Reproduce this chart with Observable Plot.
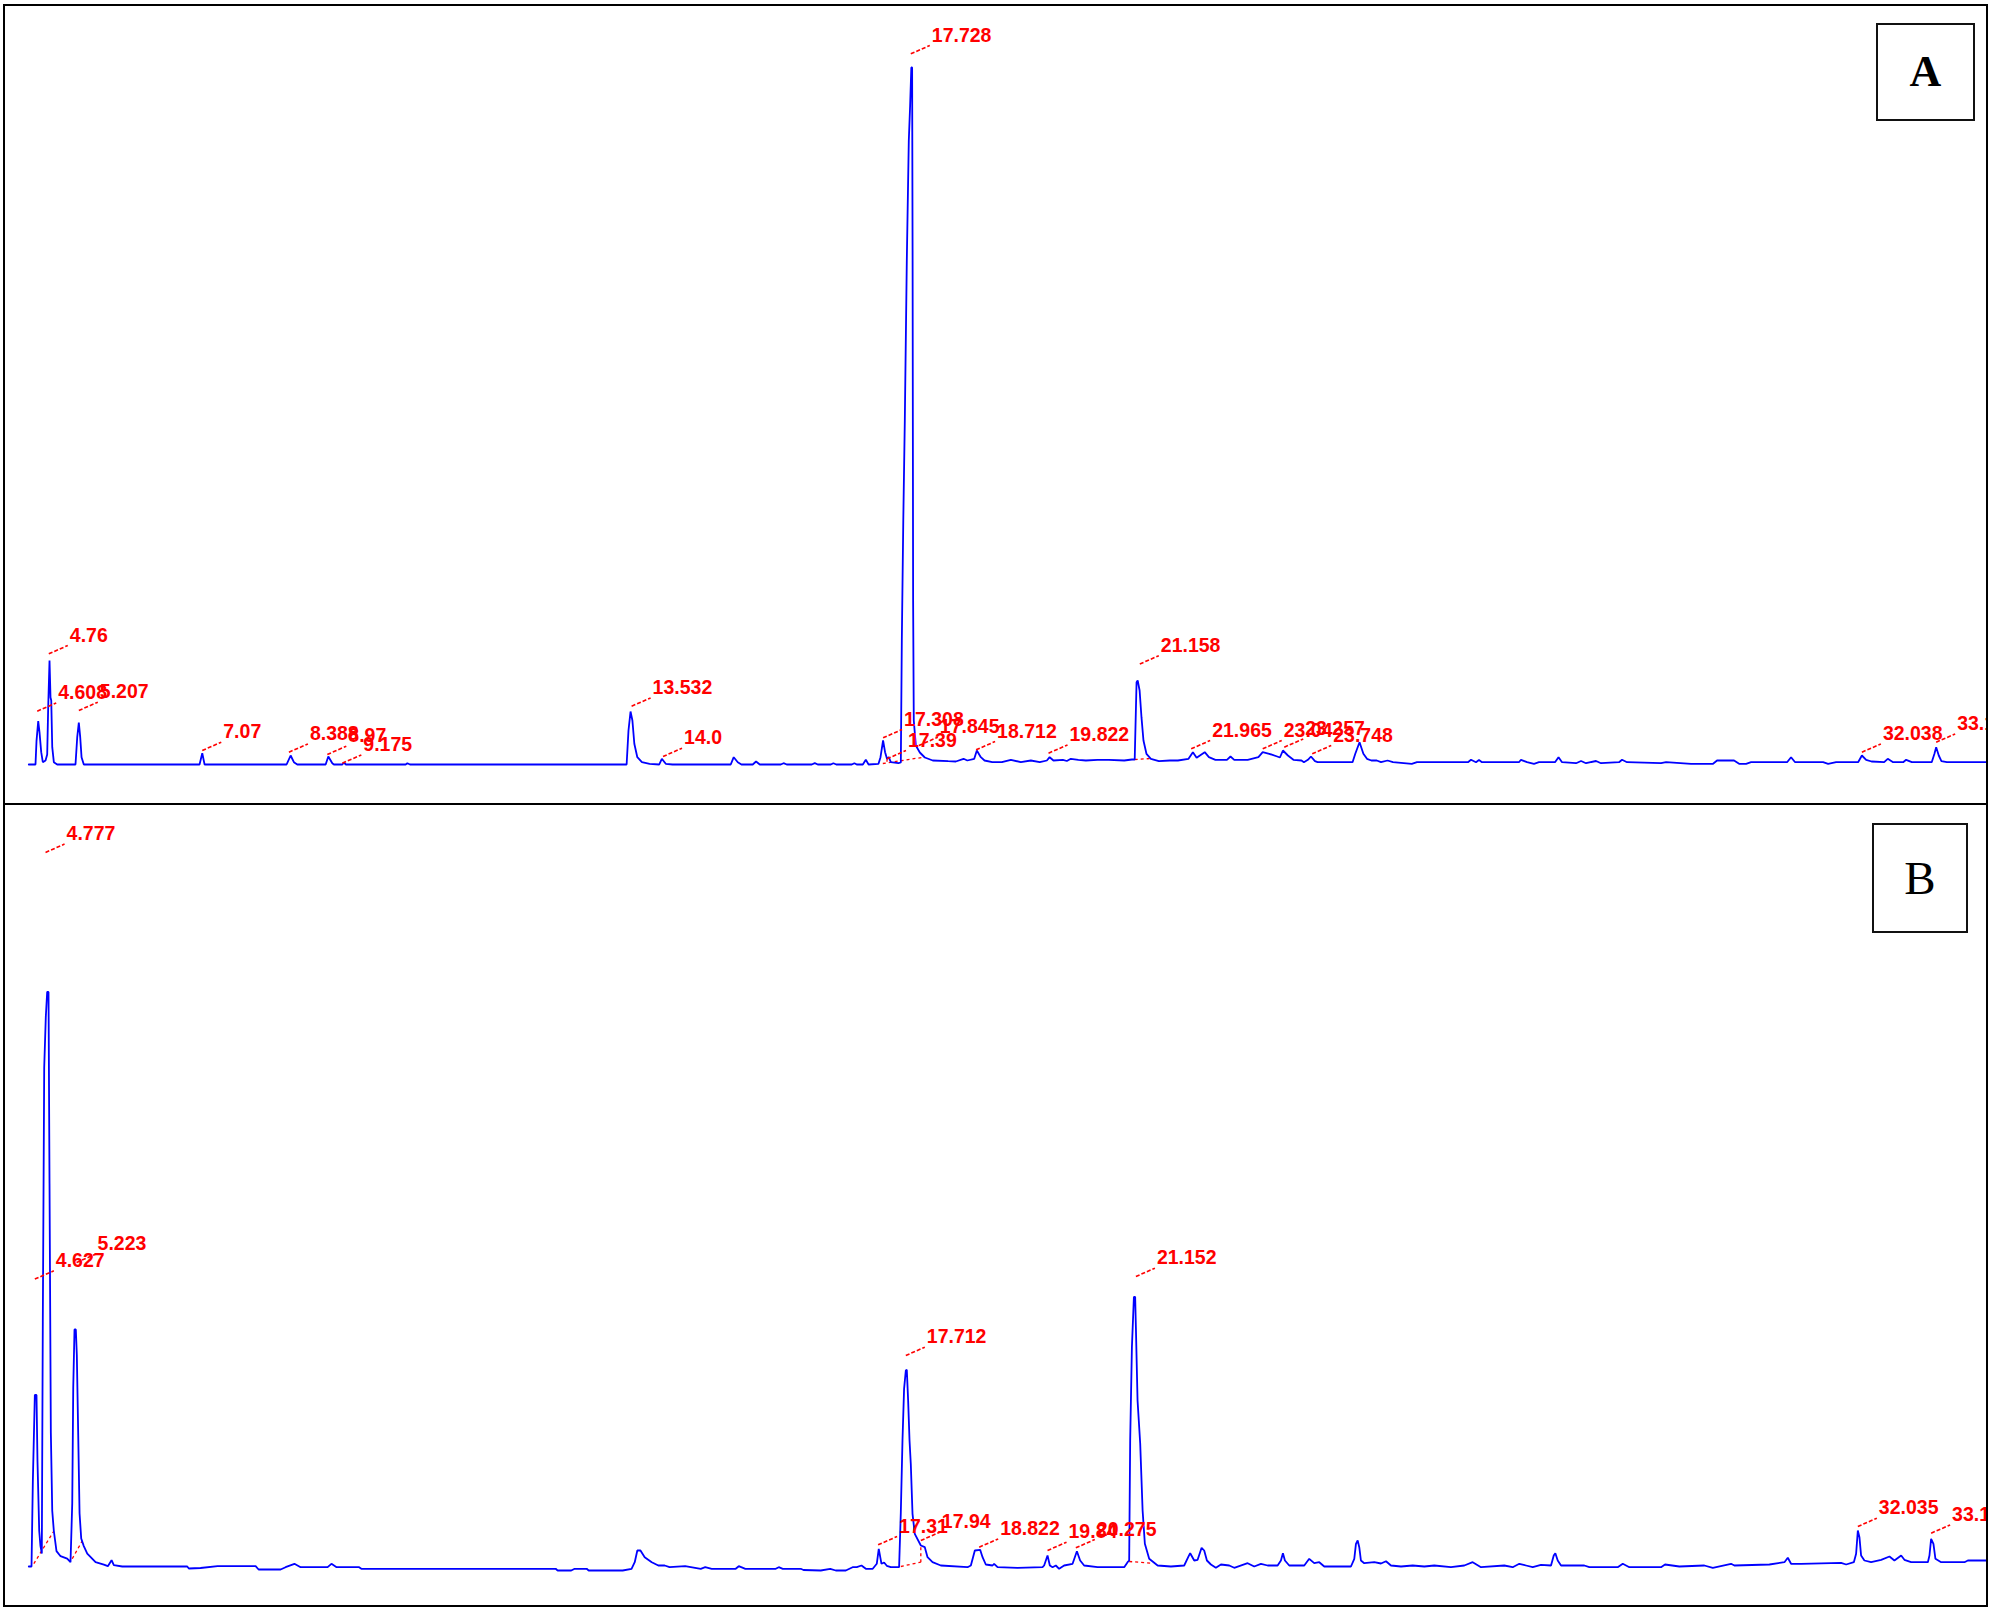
<!DOCTYPE html>
<html>
<head>
<meta charset="utf-8">
<script src="https://cdn.jsdelivr.net/npm/d3@7"></script>
<script src="https://cdn.jsdelivr.net/npm/@observablehq/plot@0.6"></script>
<style>
  html, body { margin: 0; padding: 0; background: #fff; }
  #page { position: relative; width: 1993px; height: 1612px; overflow: hidden; background: #fff; }
  .panel { position: absolute; left: 0; width: 1986px; overflow: hidden; }
  .panel svg { display: block; }
  .rule { position: absolute; background: #000; }
  .frame { position: absolute; border: 2px solid #000; box-sizing: border-box; }
  .tag { position: absolute; border: 2px solid #111; box-sizing: border-box; background: #fff;
         display: flex; align-items: center; justify-content: center;
         font-family: "Liberation Serif", "DejaVu Serif", serif; color: #000; line-height: 1; }
</style>
</head>
<body>
<div id="page"></div>
<script>
// ---------- DATA (retention time in min, detector signal in arbitrary units) ----------
const panelNames = ["A", "B"];

const traceA = [
[4.448,0],[4.549,0],[4.564,23.3],[4.590,43.3],[4.609,32.3],[4.635,12.3],[4.659,2.3],[4.700,4],[4.725,10],[4.740,57.3],
[4.760,104],[4.775,67],[4.786,64],[4.801,17.3],[4.825,2.3],[4.876,0],[5.151,0],[5.177,27.3],[5.201,42],[5.222,27.3],
[5.242,7.3],[5.276,0],[7.018,0],[7.059,11.3],[7.094,0],[8.328,0],[8.389,9],[8.438,2.3],[8.489,0],[8.916,0],
[8.956,8],[9.016,1.3],[9.040,0],[9.167,0],[9.191,2],[9.221,0],[10.120,0],[10.146,1.3],[10.185,0],[13.446,0],
[13.474,34],[13.505,53],[13.533,44],[13.562,20.7],[13.607,7.3],[13.676,2.3],[13.792,0.7],[13.937,0],[13.976,5.7],[14.035,0.7],
[14.137,0],[15.013,0],[15.058,7.3],[15.119,2.3],[15.174,0],[15.344,0],[15.394,3],[15.450,0],[15.766,0],[15.808,1.3],
[15.856,0],[16.233,0],[16.278,1.3],[16.323,0],[16.519,0],[16.558,1.3],[16.602,0],[16.835,0],[16.874,1.3],[16.910,0],
[17.001,0],[17.046,4.7],[17.088,0],[17.237,0.7],[17.267,7.3],[17.306,24],[17.336,12.3],[17.365,5.7],[17.392,7.3],[17.422,2.3],
[17.537,1.3],[17.573,2],[17.588,124],[17.610,244],[17.633,344],[17.663,504],[17.693,624],[17.713,659],[17.731,697],[17.743,697],
[17.750,514],[17.758,164],[17.768,44],[17.799,19],[17.859,12],[17.934,7],[18.054,4],[18.286,3.3],[18.401,3],[18.517,5.7],
[18.574,4],[18.678,5.7],[18.717,14],[18.777,7.3],[18.833,4],[18.949,2.3],[19.093,2.3],[19.229,4.7],[19.379,2.3],[19.530,4],
[19.665,2.3],[19.771,4],[19.813,7.3],[19.870,4],[20.012,4.7],[20.072,3.5],[20.132,5.7],[20.245,4.7],[20.358,4],[20.533,4.7],
[20.704,4.7],[20.936,4],[21.051,5],[21.093,5],[21.121,82.3],[21.138,84],[21.167,74],[21.195,47.3],[21.225,24],[21.270,10.7],
[21.337,5.7],[21.457,3.3],[21.623,4],[21.743,4],[21.903,5.7],[21.969,12.3],[22.025,6.7],[22.147,12.3],[22.210,7.3],[22.308,4.7],
[22.481,4.7],[22.535,8],[22.591,4.7],[22.794,4.7],[22.955,7.3],[23.020,12.3],[23.118,10.7],[23.238,8],[23.279,7],[23.324,14],
[23.399,9],[23.482,4.7],[23.603,4],[23.640,2.3],[23.700,4.7],[23.746,8],[23.806,3.3],[23.846,2.3],[24.372,2.3],[24.413,10.7],
[24.477,22.3],[24.535,10.7],[24.589,5.7],[24.655,4],[24.736,4],[24.800,2.3],[24.899,4],[24.980,2.3],[25.263,0.7],[25.342,2.3],
[26.109,2.3],[26.155,4.7],[26.230,2.3],[26.275,4.5],[26.320,2.3],[26.877,2.3],[26.907,4.7],[26.998,2.3],[27.103,0.7],[27.178,2.3],
[27.419,2.3],[27.472,7.3],[27.525,2.3],[27.736,1.3],[27.811,3.5],[27.886,1.3],[28.037,3.5],[28.112,1.3],[28.383,2.3],[28.428,4.7],
[28.503,2.3],[29.015,1.3],[29.091,2.3],[29.467,0.7],[29.798,0.7],[29.858,4],[30.114,4],[30.190,0.7],[30.295,0.7],[30.370,2.3],
[30.912,2.3],[30.972,7.3],[31.033,2.3],[31.454,2.3],[31.530,0.7],[31.650,2.3],[31.981,2.3],[32.038,9],[32.102,4.7],[32.183,3],
[32.373,2.3],[32.427,5.7],[32.508,2.3],[32.659,2.3],[32.704,4.7],[32.790,2.3],[33.089,2.3],[33.130,10.7],[33.156,17.3],[33.195,9],
[33.235,3.3],[33.317,2.3],[33.984,2.3]
];

const traceB = [
[4.448,0],[4.489,0],[4.509,85],[4.539,171.5],[4.564,171.5],[4.579,105],[4.605,35.5],[4.624,20.4],[4.644,13],[4.659,244.6],
[4.680,499],[4.704,549.4],[4.725,574.6],[4.745,574.6],[4.760,383.1],[4.780,133.8],[4.801,55.7],[4.825,35.5],[4.865,15.4],[4.926,10.3],
[5.026,7.8],[5.076,4.3],[5.102,63.2],[5.117,179.1],[5.136,237],[5.156,237],[5.171,211.8],[5.192,131.2],[5.212,53.2],[5.237,28],
[5.276,20.4],[5.328,12.9],[5.453,4.3],[5.578,1.8],[5.638,0.3],[5.694,6.3],[5.728,1.3],[5.855,0],[6.833,0],[6.857,-2],
[7.033,-1.5],[7.289,0.3],[7.862,0.3],[7.907,-3],[8.238,-3],[8.313,-0.7],[8.446,2.7],[8.539,-0.7],[8.946,-0.7],[9.003,2.7],
[9.081,-0.7],[9.420,-0.7],[9.453,-2.3],[12.378,-2.3],[12.408,-4],[12.612,-4],[12.664,-2.3],[12.845,-2.3],[12.875,-4],[13.387,-4],
[13.520,-2.3],[13.568,4.3],[13.607,16],[13.654,16],[13.718,9.3],[13.824,4.3],[13.923,1],[14.019,1],[14.092,-0.7],[14.327,0.3],
[14.562,-2.3],[14.629,-0.7],[14.727,-2.3],[15.088,-2.3],[15.134,0.3],[15.233,-2.3],[15.691,-2.3],[15.736,-0.7],[15.796,-2.3],[16.067,-2.3],
[16.108,-3.5],[16.368,-4],[16.511,-2.3],[16.594,-4],[16.745,-4],[16.847,-0.7],[16.910,-0.7],[16.981,1],[17.046,-2.3],[17.150,-2.3],
[17.211,2.7],[17.241,17.7],[17.282,2.7],[17.321,4],[17.362,0.7],[17.422,-0.7],[17.547,-0.7],[17.573,54.3],[17.598,126],[17.622,177.7],
[17.648,196],[17.663,196.7],[17.683,166],[17.704,126],[17.723,102.7],[17.749,52.7],[17.783,32.7],[17.874,21],[17.934,19.3],[17.975,9.3],
[18.050,4.3],[18.175,1],[18.577,-0.7],[18.627,1],[18.687,16],[18.767,16.7],[18.803,9.3],[18.852,2],[18.953,1],[18.977,2.7],
[19.029,-0.7],[19.330,-1.3],[19.706,-0.7],[19.730,1],[19.781,11],[19.816,1],[19.857,-0.7],[19.906,1],[19.956,-2.3],[20.031,1],
[20.158,2.7],[20.192,9.3],[20.223,15.3],[20.272,6],[20.332,1],[20.534,-0.7],[20.935,-0.7],[20.986,4.3],[21.010,6],[21.025,126],
[21.051,219.3],[21.081,269.5],[21.100,269.5],[21.111,239.3],[21.136,166],[21.176,122.7],[21.212,56],[21.246,22.7],[21.311,7.7],[21.438,1],
[21.638,0],[21.838,1],[21.898,9.3],[21.928,13.3],[21.989,6],[22.040,6.7],[22.100,18.7],[22.139,16],[22.180,6],[22.240,2],
[22.315,-1.3],[22.391,2],[22.516,1],[22.591,-1.3],[22.793,3.3],[22.892,0],[22.993,2.7],[23.094,1],[23.244,1],[23.294,6],
[23.324,13.3],[23.354,6],[23.419,1],[23.645,1],[23.720,7.7],[23.795,3.3],[23.871,4.3],[23.946,0],[24.348,0],[24.398,7.7],
[24.423,22.7],[24.449,26],[24.473,19.3],[24.498,6],[24.548,3.3],[24.699,4.3],[24.800,3],[24.875,5.3],[24.950,1],[25.101,0],
[25.277,1],[25.452,0],[25.602,1],[25.853,-0.7],[26.054,1],[26.180,4.3],[26.305,-0.7],[26.656,1],[26.782,-0.7],[26.882,2.7],
[26.983,1],[27.084,-0.7],[27.208,1.7],[27.359,1],[27.400,11],[27.424,13.3],[27.460,6],[27.510,1],[27.860,1],[27.936,-0.7],
[28.363,-0.7],[28.439,2.7],[28.538,-0.7],[29.015,-0.7],[29.075,2],[29.291,0],[29.667,1],[29.794,-1.3],[30.069,2.7],[30.119,1],
[30.646,2],[30.872,4.3],[30.923,8.7],[30.972,2.7],[31.123,2.7],[31.725,3.7],[31.801,2],[31.917,4.3],[31.951,12.7],[31.977,36],
[32.001,29.3],[32.026,11],[32.076,6],[32.177,4.3],[32.328,6.7],[32.453,10],[32.528,6],[32.629,11],[32.678,6.7],[32.779,4.3],
[33.031,4.3],[33.055,11],[33.080,27.7],[33.115,22.7],[33.145,7.7],[33.231,4.3],[33.582,4.3],[33.633,6],[33.984,6]
];

// peak annotations: text, retention time at the leader foot, signal at the leader foot
const labelTextA   = ["4.608","4.76","5.207","7.07","8.388","8.97","9.175","13.532","14.0","17.308","17.39","17.845","17.728","18.712","19.822","21.158","21.965","23.04","23.257","23.748","32.038","33.156"];
const labelTimeA   = [4.575,4.749,5.201,7.059,8.363,8.941,9.167,13.521,13.994,17.306,17.365,17.844,17.723,18.706,19.796,21.170,21.943,23.020,23.344,23.765,32.038,33.156];
const labelSignalA = [53.3,110.7,54,14,12.3,10,1.3,58.3,8,26.7,5.7,19,710.7,14.7,11.3,100.5,15.7,15.7,17.3,10.7,12.3,22.3];

const labelTextB   = ["4.777","4.627","5.223","17.712","17.31","17.94","18.822","19.84","20.275","21.152","32.035","33.103"];
const labelTimeB   = [4.700,4.539,5.167,17.648,17.231,17.874,18.752,19.781,20.207,21.111,31.977,33.080];
const labelSignalB = [714.1,287.4,304,211,21.7,26,19.3,16,18.7,290,40,33.3];

// integration baselines (dashed red): t1, s1, t2, s2
const baselineA = [[17.302,1,17.889,7],[17.365,5.7,17.365,0],[21.093,5,21.337,6]];
const baselineB = [[4.524,2.8,4.825,35.5],[5.102,7.8,5.252,25.5],[17.573,0,17.874,4.3],[17.874,4.3,17.874,21],[21.010,5,21.337,3.3]];

// ---------- DRAWING ----------
const PLOT_W = 1986;
const X_DOMAIN = [4.0222, 33.9135];
const LEAD_T = 0.286, LEAD_S = 8.3;
const RED = "#ff0000", BLUE = "#0000ff";

function buildLabels(texts, times, signals) {
  return texts.map((label, i) => ({label, t: times[i], s: signals[i]}));
}

function chromatogram({trace, labels, segs, base, height}) {
  const segRows = segs.map(([t1, s1, t2, s2]) => ({t1, s1, t2, s2}));
  return Plot.plot({
    width: PLOT_W, height, margin: 0,
    style: {background: "transparent", overflow: "hidden"},
    x: {domain: X_DOMAIN, axis: null},
    y: {domain: [0, base], range: [base, 0], axis: null},
    marks: [
      Plot.link(segRows, {x1: "t1", y1: "s1", x2: "t2", y2: "s2", stroke: RED, strokeWidth: 1.3, strokeDasharray: "3,3"}),
      Plot.line(trace, {x: d => d[0], y: d => d[1], stroke: BLUE, strokeWidth: 1.8, strokeLinejoin: "miter"}),
      Plot.link(labels, {x1: "t", y1: "s", x2: d => d.t + LEAD_T, y2: d => d.s + LEAD_S,
        stroke: RED, strokeWidth: 1.6, strokeDasharray: "4,2"}),
      Plot.text(labels, {x: d => d.t + LEAD_T, y: d => d.s + LEAD_S, text: "label",
        textAnchor: "start", lineAnchor: "bottom", dx: 2, dy: -4,
        fill: RED, fontWeight: "bold", fontSize: 19.5,
        fontFamily: "'Liberation Sans', Arial, sans-serif"})
    ]
  });
}

const page = document.getElementById("page");

const panelA = document.createElement("div");
panelA.className = "panel";
panelA.style.top = "0px"; panelA.style.height = "803px";
panelA.appendChild(chromatogram({
  trace: traceA, labels: buildLabels(labelTextA, labelTimeA, labelSignalA),
  segs: baselineA, base: 764, height: 803
}));
page.appendChild(panelA);

const panelB = document.createElement("div");
panelB.className = "panel";
panelB.style.top = "805px"; panelB.style.height = "801px";
panelB.appendChild(chromatogram({
  trace: traceB, labels: buildLabels(labelTextB, labelTimeB, labelSignalB),
  segs: baselineB, base: 761, height: 801
}));
page.appendChild(panelB);

// frame and divider
const frame = document.createElement("div");
frame.className = "frame";
Object.assign(frame.style, {left: "3px", top: "4px", width: "1985px", height: "1603px"});
page.appendChild(frame);
const rule = document.createElement("div");
rule.className = "rule";
Object.assign(rule.style, {left: "3px", top: "803px", width: "1985px", height: "2px"});
page.appendChild(rule);

// panel tags
const tagStyles = [
  {left: "1876px", top: "23px", width: "99px", height: "98px", fontSize: "44px", fontWeight: "bold"},
  {left: "1872px", top: "823px", width: "96px", height: "110px", fontSize: "47px", fontWeight: "normal"}
];
panelNames.forEach((name, i) => {
  const tag = document.createElement("div");
  tag.className = "tag";
  Object.assign(tag.style, tagStyles[i]);
  tag.textContent = name;
  page.appendChild(tag);
});
</script>
</body>
</html>
